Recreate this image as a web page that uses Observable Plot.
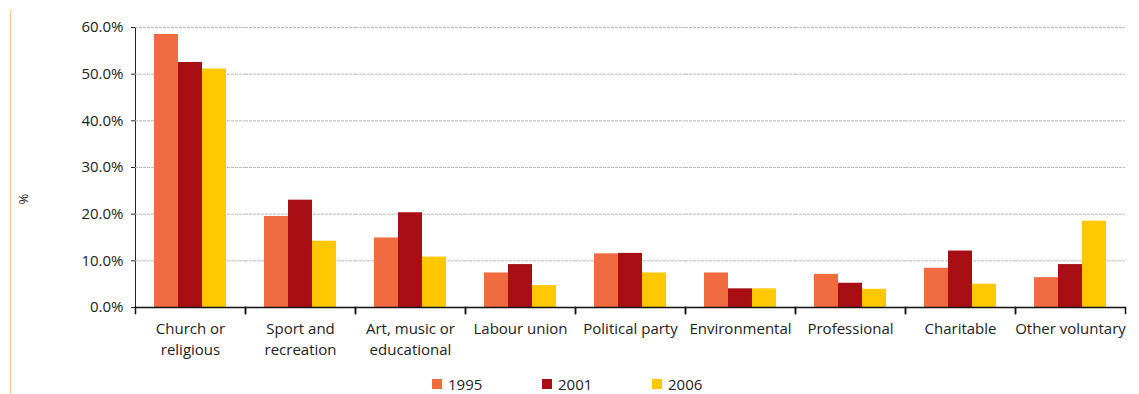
<!DOCTYPE html>
<html>
<head>
<meta charset="utf-8">
<script src="https://cdn.jsdelivr.net/npm/d3@7"></script>
<script src="https://cdn.jsdelivr.net/npm/@observablehq/plot@0.6"></script>
<style>
  body { margin: 0; background: #fff; font-family: "Open Sans", sans-serif; }
  #wrap { position: relative; width: 1139px; height: 394px; overflow: hidden; }
  #border { position: absolute; left: 10px; top: 10px; bottom: 0; width: 0; border-left: 1.5px solid #fcc58a; }
  #chart { position: absolute; left: 0; top: 0; }
  #ylabel { position: absolute; left: 19px; top: 190px; font-size: 13px; color: #222; transform: rotate(90deg); transform-origin: center; }
  #legend { position: absolute; left: 432px; top: 374px; display: flex; font-size: 15px; color: #222; }
  .item { width: 110px; display: flex; align-items: center; }
  .sw { width: 10px; height: 10px; margin-right: 6px; }
</style>
</head>
<body>
<div id="wrap">
  <div id="border"></div>
  <div id="chart"></div>
  <div id="ylabel">%</div>
  <div id="legend"></div>
</div>
<script>
const categories = ["Church or religious", "Sport and recreation", "Art, music or educational", "Labour union", "Political party", "Environmental", "Professional", "Charitable", "Other voluntary"];
const categoryLabels = ["Church or\nreligious", "Sport and\nrecreation", "Art, music or\neducational", "Labour union", "Political party", "Environmental", "Professional", "Charitable", "Other voluntary"];
const years = ["1995", "2001", "2006"];
const values1995 = [58.5, 19.5, 14.9, 7.4, 11.5, 7.4, 7.1, 8.4, 6.4];
const values2001 = [52.5, 23.0, 20.3, 9.2, 11.6, 4.0, 5.2, 12.1, 9.2];
const values2006 = [51.1, 14.2, 10.8, 4.7, 7.4, 4.0, 3.9, 5.0, 18.5];
const colors = ["#f06b40", "#a80f14", "#ffc800"];
const yTicks = [0, 0.1, 0.2, 0.3, 0.4, 0.5, 0.6];

const series = [values1995, values2001, values2006];
const data = categories.flatMap((c, i) => years.map((y, j) => ({category: c, year: y, value: series[j][i] / 100})));
const labelData = categories.map((c, i) => ({category: c, label: categoryLabels[i]}));

const H = 362, MT = 27, MB = 55;
const plotH = H - MT - MB;

const chart = Plot.plot({
  width: 1139,
  height: H,
  marginLeft: 134,
  marginRight: 14,
  marginTop: MT,
  marginBottom: MB,
  style: {fontFamily: "'Open Sans', sans-serif", fontSize: "15px", color: "#222", background: "transparent", overflow: "visible"},
  fx: {domain: categories, padding: 0, axis: null},
  x: {domain: years, paddingInner: 0, paddingOuter: 0.73, axis: null},
  y: {domain: [0, 0.6], ticks: yTicks, tickFormat: d3.format(".1%"), label: null, tickSize: 4, tickPadding: 8, line: true},
  color: {domain: years, range: colors},
  marks: [
    Plot.ruleY(yTicks.slice(1), {stroke: "#b8b8b8", strokeDasharray: "3,1"}),
    Plot.barY(data, {fx: "category", x: "year", y: "value", fill: "year"}),
    Plot.ruleY([0], {stroke: "#111", strokeWidth: 1.5}),
    Plot.frame({anchor: "left", insetTop: plotH, insetBottom: -6, stroke: "#111", strokeWidth: 1.5}),
    Plot.frame({anchor: "right", insetTop: plotH, insetBottom: -6, stroke: "#111", strokeWidth: 1.5}),
    Plot.text(labelData, {fx: "category", text: "label", frameAnchor: "bottom", dy: 12, lineAnchor: "top", lineHeight: 1.4, fill: "#222", fontSize: 15})
  ]
});
document.getElementById("chart").append(chart);

const legend = document.getElementById("legend");
years.forEach((y, i) => {
  const item = document.createElement("div");
  item.className = "item";
  const sw = document.createElement("span");
  sw.className = "sw";
  sw.style.background = colors[i];
  const t = document.createElement("span");
  t.textContent = y;
  item.append(sw, t);
  legend.append(item);
});
</script>
</body>
</html>
